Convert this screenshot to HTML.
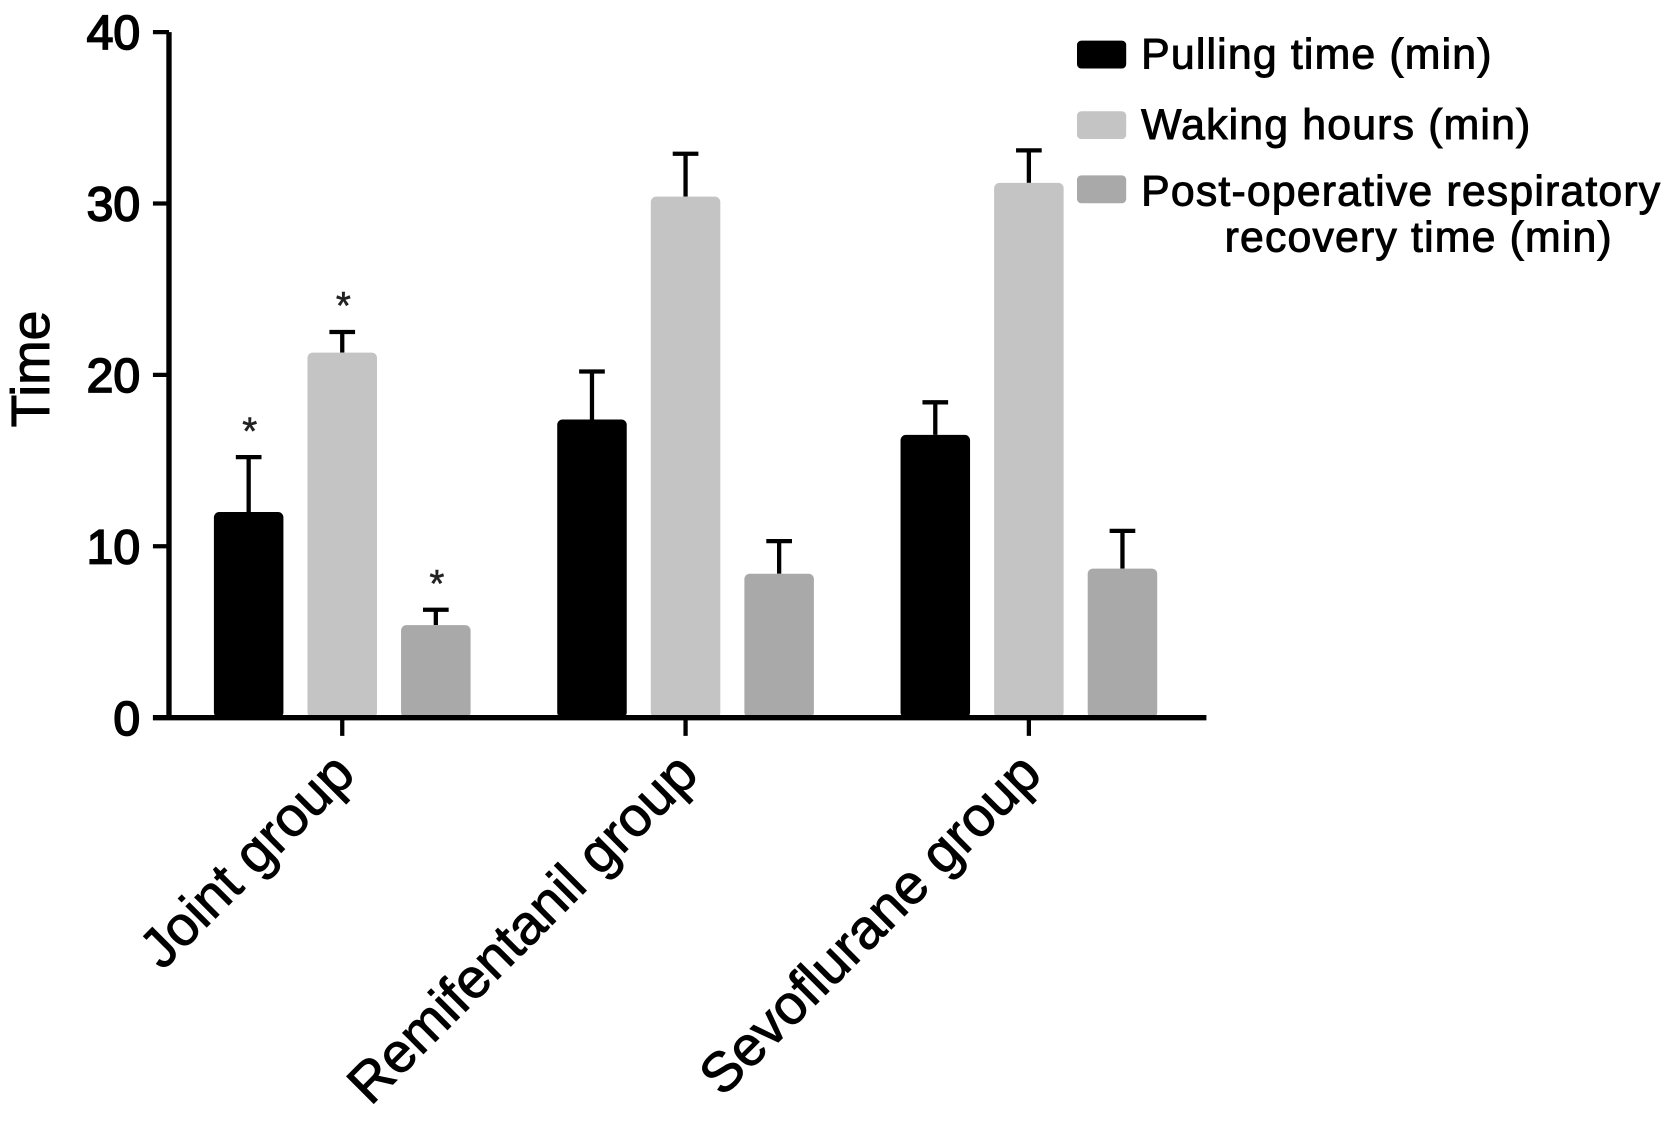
<!DOCTYPE html>
<html><head><meta charset="utf-8"><style>
html,body{margin:0;padding:0;background:#fff;}
svg{display:block;font-family:"Liberation Sans",Arial,sans-serif;}
text{stroke:#000;stroke-width:0.9px;}
</style></head><body>
<svg id="chart" width="1677" height="1122" viewBox="0 0 1568 1049" preserveAspectRatio="none" xmlns="http://www.w3.org/2000/svg"></svg>
<script>
const categories = ["Joint group", "Remifentanil group", "Sevoflurane group"];
const seriesNames = ["Pulling time (min)", "Waking hours (min)", "Post-operative respiratory recovery time (min)"];
const pullingTime = [12.0, 17.4, 16.5];
const pullingErr = [3.2, 2.8, 1.9];
const wakingHours = [21.3, 30.4, 31.2];
const wakingErr = [1.2, 2.5, 1.9];
const respRecovery = [5.4, 8.4, 8.7];
const respErr = [0.9, 1.9, 2.2];
const significant = [[true, true, true], [false, false, false], [false, false, false]];
const yTicks = [0, 10, 20, 30, 40];

const NS = "http://www.w3.org/2000/svg";
const svg = document.getElementById("chart");
const colors = ["#000000", "#c4c4c4", "#a9a9a9"];
const values = [pullingTime, wakingHours, respRecovery];
const errs = [pullingErr, wakingErr, respErr];
const y0 = 671, yPerUnit = 16.025;
function yScale(v){ return y0 - v * yPerUnit; }
const groupCenter = [320, 641, 962];
function xBar(g, s){ return groupCenter[g] - 120 + s * 87.5; }
const barW = 65;
function el(tag, attrs, text){
  const e = document.createElementNS(NS, tag);
  for (const k in attrs) e.setAttribute(k, attrs[k]);
  if (text !== undefined) e.textContent = text;
  svg.appendChild(e);
  return e;
}
for (let s = 0; s < 3; s++) {
  for (let g = 0; g < 3; g++) {
    const x = xBar(g, s), v = values[s][g], top = yScale(v), et = yScale(v + errs[s][g]);
    const cx = x + barW / 2;
    const eb = el("path", {d: `M${cx},${top} V${et} M${cx-12},${et} H${cx+12}`, stroke: "#000", "stroke-width": 4, fill: "none"});
    
    
    const r = el("rect", {x: x, y: top, width: barW, height: y0 - top, rx: 5, fill: colors[s]});
    
    
    if (significant[g][s]) {
      const a = el("text", {x: cx + 1, y: et - 12, "font-size": 36, "text-anchor": "middle", fill: "#222", style: "stroke:#222;stroke-width:0.5px"}, "*");
      
      
    }
  }
}
const ya = el("path", {d: `M158,${yScale(40)} V${y0+2}`, stroke: "#000", "stroke-width": 5, fill: "none"});


const xa = el("path", {d: `M143,${y0} H1128`, stroke: "#000", "stroke-width": 5, fill: "none"});


yTicks.forEach(t => {
  const yy = yScale(t);
  const tk = el("path", {d: `M143,${yy} H158`, stroke: "#000", "stroke-width": 4});
  
  
  const lb = el("text", {x: 131, y: yy + 16, "font-size": 45, "text-anchor": "end", fill: "#000", style: "stroke-width:1.6px"}, String(t));
  
  
});
categories.forEach((c, g) => {
  const cx = groupCenter[g];
  const tk = el("path", {d: `M${cx},${y0} V${y0+17}`, stroke: "#000", "stroke-width": 4});
  
  
  const lb = el("text", {x: cx + 14, y: 726, "font-size": 52, "text-anchor": "end", fill: "#000", transform: `rotate(-45 ${cx+14} 726)`}, c);
  
  
});
const yt = el("text", {x: 46, y: 345, "font-size": 50, "text-anchor": "middle", fill: "#000", transform: "rotate(-90 46 345)"}, "Time");


const legY = [38, 104, 164];
for (let s = 0; s < 3; s++) {
  const sw = el("rect", {x: 1007, y: legY[s], width: 46, height: 26, rx: 4, fill: colors[s]});
  
  
}
const lst = "letter-spacing:1.1px";
const l1 = el("text", {x: 1067, y: 64, "font-size": 40, fill: "#000", style: lst}, seriesNames[0]);


const l2 = el("text", {x: 1067, y: 130, "font-size": 40, fill: "#000", style: lst}, seriesNames[1]);


const l3 = el("text", {x: 1067, y: 192, "font-size": 40, fill: "#000", style: lst}, "Post-operative respiratory");


const l4 = el("text", {x: 1145, y: 235, "font-size": 40, fill: "#000", style: lst}, "recovery time (min)");


</script>
</body></html>
